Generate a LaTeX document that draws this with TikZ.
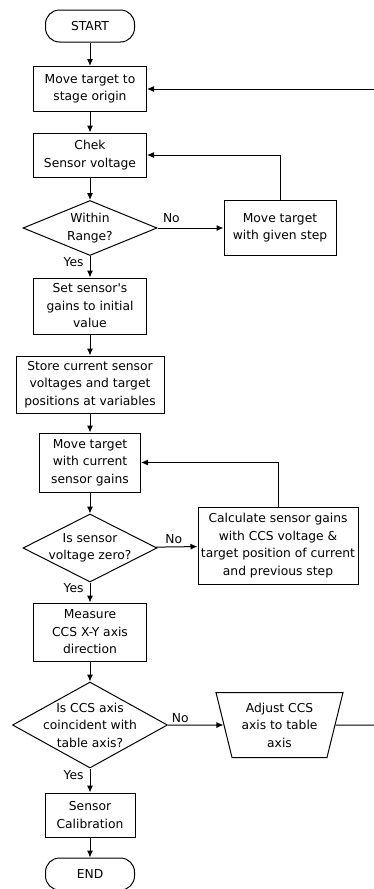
\documentclass[tikz,border=0pt]{standalone}
\usepackage{fontspec}
\usepackage{tikz}
\usetikzlibrary{arrows.meta, shapes.geometric}
\newfontfamily\flowfont{DejaVu Sans}

\tikzset{
    procbox/.style={draw, rectangle, align=center, inner sep=1pt},
    termbox/.style={draw, rectangle, rounded corners=14pt, minimum width=89pt, minimum height=32pt},
    decbox/.style={draw, diamond, align=center, inner sep=-4pt},
    iobox/.style={draw, trapezium, trapezium angle=71, shape border rotate=180,
        trapezium stretches body, align=center, inner sep=1pt},
    answer/.style={inner sep=2pt}
}

\begin{document}
\begin{tikzpicture}[x=1pt, y=-1pt, line width=1pt, >={Latex[length=7pt,width=6pt]},
    font=\flowfont\fontsize{12.3pt}{17.5pt}\selectfont]
    \useasboundingbox (0,0) rectangle (374,889);

    \node[termbox] (start) at (90,26) {START};
    \node[procbox, minimum width=113pt, minimum height=45pt] (origin) at (90,89) {Move target to\\stage origin};
    \node[procbox, minimum width=113pt, minimum height=44pt] (check) at (90,155) {Chek\\Sensor voltage};
    \node[decbox, aspect=2.4, minimum width=134pt, minimum height=55pt] (range) at (90,228) {Within\\Range?};
    \node[procbox, minimum width=112pt, minimum height=55pt] (step) at (280,228) {Move target\\with given step};
    \node[procbox, minimum width=113pt, minimum height=56pt] (setgain) at (90,306) {Set sensor's\\gains to initial\\value};
    \node[procbox, minimum width=148pt, minimum height=57pt] (store) at (90,384.5) {Store current sensor\\voltages and target\\positions at variables};
    \node[procbox, minimum width=101pt, minimum height=59pt] (movecur) at (90,462.5) {Move target\\with current\\sensor gains};
    \node[decbox, aspect=2, minimum width=134pt, minimum height=68pt] (zero) at (90,548) {Is sensor\\voltage zero?};
    \node[procbox, minimum width=160pt, minimum height=77pt] (calc) at (278,545.5) {Calculate sensor gains\\with CCS voltage \&\\target position of current\\and previous step};
    \node[procbox, minimum width=113pt, minimum height=58pt] (measure) at (90,632) {Measure\\CCS X-Y axis\\direction};
    \node[decbox, aspect=1.8, minimum width=155pt, minimum height=86pt] (align) at (90,725) {Is CCS axis\\coincident with\\table axis?};
    \node[iobox, minimum width=127pt, minimum height=65pt] (adjust) at (279.5,725) {Adjust CCS\\axis to table\\axis};
    \node[procbox, minimum width=90pt, minimum height=44pt] (calib) at (90,815) {Sensor\\Calibration};
    \node[termbox] (stop) at (90,874) {END};
    \coordinate (backin) at (374,89);
    \coordinate (backout) at (374,725);

    \draw[->] (start) -- (origin);
    \draw[->] (origin) -- (check);
    \draw[->] (check) -- (range);
    \draw[->] (range) -- node[answer, pos=0.21, above=3pt] {No} (step);
    \draw[->] (step.north) |- (check.east);
    \draw[->] (range) -- node[answer, pos=0.3, left=4pt] {Yes} (setgain);
    \draw[->] (setgain) -- (store);
    \draw[->] (store) -- (movecur);
    \draw[->] (movecur) -- (zero);
    \draw[->] (zero) -- node[answer, pos=0.43, above=1pt] {No} (calc);
    \draw[->] (calc.north) |- (movecur.east);
    \draw[->] (zero) -- node[answer, pos=0.26, left=4pt] {Yes} (measure);
    \draw[->] (measure) -- (align);
    \draw[->] (align) -- node[answer, pos=0.22, above] {No} (adjust);
    \draw (adjust) -- (backout);
    \draw[->] (backin) -- (origin.east);
    \draw[->] (align) -- node[answer, pos=0.28, left=4pt] {Yes} (calib);
    \draw[->] (calib) -- (stop);
\end{tikzpicture}
\end{document}
